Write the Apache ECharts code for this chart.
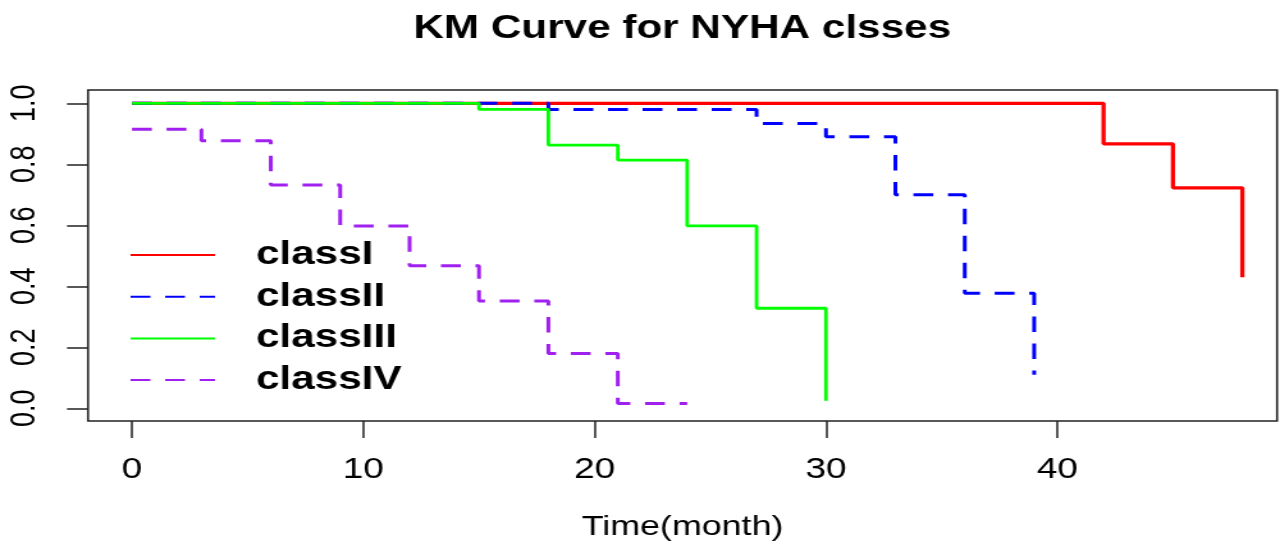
<!DOCTYPE html>
<html>
<head>
<meta charset="utf-8">
<title>KM Curve for NYHA clsses</title>
<script src="https://cdn.jsdelivr.net/npm/echarts@6/dist/echarts.min.js"></script>
<style>
    html, body { margin: 0; padding: 0; background: #fff; overflow: hidden; }
    /* the reference picture is stretched sideways, so the chart is drawn narrow and scaled */
    #chart { width: 1005px; height: 548px; transform: scaleX(1.28); transform-origin: 0 0; }
</style>
</head>
<body>
<div id="chart"></div>
<script>
    // survival steps (time in months, survival probability)
    const classITime = [0, 42, 45, 48];
    const classISurv = [1, 0.867, 0.723, 0.43];
    const classIITime = [0, 18, 27, 30, 33, 36, 39];
    const classIISurv = [1, 0.98, 0.934, 0.89, 0.70, 0.377, 0.11];
    const classIIITime = [0, 15, 18, 21, 24, 27, 30];
    const classIIISurv = [1, 0.98, 0.863, 0.814, 0.598, 0.328, 0.025];
    const classIVTime = [0, 3, 6, 9, 12, 15, 18, 21, 24];
    const classIVSurv = [0.915, 0.877, 0.732, 0.598, 0.467, 0.352, 0.18, 0.016, 0.016];

    const xTicks = [0, 10, 20, 30, 40];
    const yTicks = [0, 0.2, 0.4, 0.6, 0.8, 1.0];

    const font = 'Liberation Sans, Arial, sans-serif';

    function zip(t, s) {
        return t.map(function (v, i) { return [v, s[i]]; });
    }

    function kmSeries(name, t, s, color, width, dash) {
        return {
            name: name,
            type: 'line',
            step: 'end',
            symbol: 'none',
            data: zip(t, s),
            lineStyle: { color: color, width: width, type: dash ? [15.5, 11.5] : 'solid', cap: 'butt' },
            itemStyle: { color: color }
        };
    }

    let myChart = echarts.init(document.getElementById('chart'));
    let option = {
        animation: false,
        backgroundColor: '#fff',
        title: {
            text: 'KM Curve for NYHA clsses',
            left: 533,
            top: 12,
            padding: 0,
            textAlign: 'center',
            textStyle: { fontFamily: font, fontSize: 33, fontWeight: 'bold', color: '#000' }
        },
        legend: {
            orient: 'vertical',
            left: 101,
            top: 235,
            padding: 0,
            itemWidth: 66,
            itemHeight: 14,
            itemGap: 1.7,
            itemStyle: { opacity: 0 },
            textStyle: {
                fontFamily: font, fontSize: 33, fontWeight: 'bold', color: '#000',
                lineHeight: 30, padding: [10, 0, 0, 27]
            },
            data: ['classI', 'classII', 'classIII', 'classIV']
        },
        grid: {
            show: true,
            left: 68.75,
            right: 7.3,
            top: 90,
            bottom: 127,
            borderColor: '#222',
            borderWidth: 1.6,
            containLabel: false
        },
        xAxis: {
            type: 'value',
            min: -1.902,
            max: 49.5,
            name: 'Time(month)',
            nameLocation: 'middle',
            nameGap: 92,
            nameTextStyle: { fontFamily: font, fontSize: 28, color: '#000' },
            axisLine: { show: false, onZero: false },
            splitLine: { show: false },
            axisTick: { show: true, length: 17, lineStyle: { color: '#222', width: 1.5 }, customValues: xTicks },
            axisLabel: { fontFamily: font, fontSize: 29, color: '#000', margin: 34, customValues: xTicks }
        },
        yAxis: {
            type: 'value',
            min: -0.0416,
            max: 1.0436,
            axisLine: { show: false, onZero: false },
            splitLine: { show: false },
            axisTick: { show: true, length: 16.4, lineStyle: { color: '#222', width: 1.5 }, customValues: yTicks },
            axisLabel: {
                fontFamily: font, fontSize: 27, color: '#000', margin: 36, rotate: 90,
                customValues: yTicks,
                formatter: function (v) { return v.toFixed(1); }
            }
        },
        series: [
            kmSeries('classI', classITime, classISurv, '#ff0000', 3.3, false),
            kmSeries('classII', classIITime, classIISurv, '#0000ff', 3, true),
            kmSeries('classIII', classIIITime, classIIISurv, '#00ff00', 2.8, false),
            kmSeries('classIV', classIVTime, classIVSurv, '#a020f0', 3, true)
        ]
    };
    myChart.setOption(option);
</script>
</body>
</html>
